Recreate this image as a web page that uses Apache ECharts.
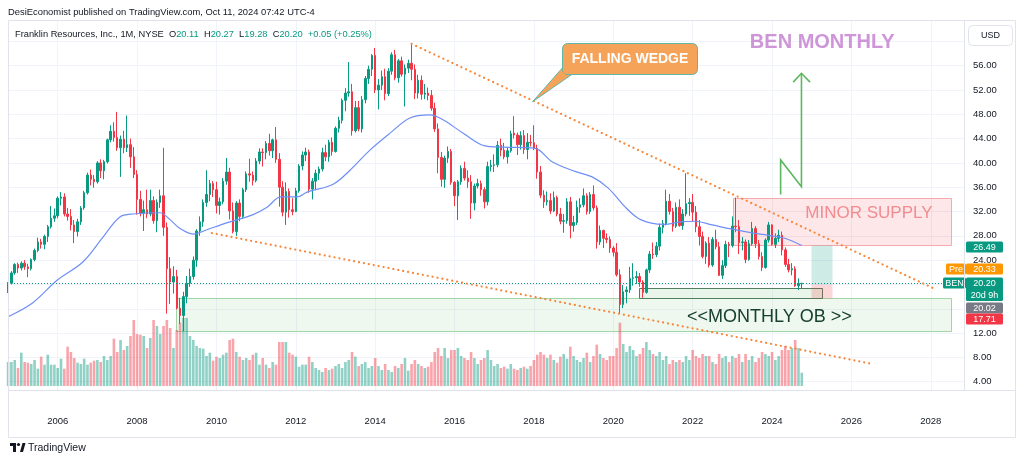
<!DOCTYPE html>
<html><head><meta charset="utf-8">
<script src="https://cdn.jsdelivr.net/npm/echarts@6/dist/echarts.min.js"></script>
<style>html,body{margin:0;padding:0;background:#fff}#c{width:1024px;height:463px}</style>
</head><body><div id="c"></div><script>
// ---------- DATA ----------
const startYear = 2004, startMonth = 10;           // first candle: Oct 2004 (monthly)
// [open, high, low, close]
const ohlc = [
// 2004 Oct-Dec
[18.9,20.4,18.6,20.2],[20.2,22.2,20.0,21.9],[21.9,23.5,21.6,23.3],
// 2005
[23.3,23.6,21.9,22.7],[22.7,23.8,22.3,23.5],[23.5,24.0,22.4,22.9],[22.9,23.4,21.2,22.6],[22.6,24.3,22.3,24.1],[24.1,25.9,23.8,25.6],
[25.6,27.7,25.3,27.0],[27.0,27.5,25.9,26.6],[26.6,28.2,25.8,27.9],[27.9,29.8,27.0,29.5],[29.5,32.9,29.2,30.9],[30.9,32.5,30.3,31.3],
// 2006
[31.3,34.5,30.9,34.2],[34.2,35.2,33.0,34.4],[34.4,35.0,31.2,31.6],[31.6,32.6,30.5,31.2],[31.2,32.4,28.9,29.8],[29.8,30.6,26.8,28.7],
[28.7,30.8,27.9,30.3],[30.3,32.9,29.8,32.6],[32.6,35.4,32.3,35.1],[35.1,38.4,34.8,38.0],[38.0,38.9,36.3,37.3],[37.3,38.0,35.9,36.9],
// 2007
[36.9,40.3,36.6,40.0],[40.0,40.6,37.5,38.7],[38.7,40.5,37.3,40.2],[40.2,44.0,39.9,43.8],[43.8,46.2,43.4,45.2],[45.2,46.7,43.5,44.2],
[44.2,48.4,42.0,42.5],[42.5,44.5,37.7,43.9],[43.9,45.3,41.6,42.5],[42.5,47.8,41.8,43.0],[43.0,44.0,39.2,41.0],[41.0,42.6,37.5,38.1],
// 2008
[38.1,38.8,31.5,34.0],[34.0,35.4,31.2,31.7],[31.7,33.8,28.8,32.3],[32.3,35.6,30.9,31.6],[31.6,35.6,31.2,33.8],[33.8,34.5,30.0,30.5],
[30.5,34.0,28.6,33.5],[33.5,35.6,32.6,34.6],[34.6,42.5,28.0,29.4],[29.4,30.2,15.2,22.6],[22.6,24.5,16.8,20.4],[20.4,23.0,18.5,21.3],
// 2009
[21.3,22.4,15.9,16.1],[16.1,17.8,13.5,14.9],[14.9,18.8,12.3,18.0],[18.0,21.4,16.9,20.2],[20.2,22.6,19.6,21.3],[21.3,24.6,20.8,24.0],
[24.0,29.1,22.9,28.8],[28.8,31.2,28.0,30.3],[30.3,34.0,29.5,33.5],[33.5,38.8,32.8,34.8],[34.8,37.2,33.7,36.6],[36.6,37.0,34.4,35.6],
// 2010
[35.6,36.9,31.7,33.0],[33.0,34.3,31.5,33.6],[33.6,37.5,33.2,37.0],[37.0,40.8,36.4,38.5],[38.5,39.2,30.7,32.1],[32.1,33.5,28.4,28.7],
[28.7,33.7,28.0,33.4],[33.4,34.0,30.4,31.2],[31.2,35.9,30.8,35.6],[35.6,38.6,35.2,38.2],[38.2,40.7,36.9,38.0],[38.0,38.6,36.3,37.1],
// 2011
[37.1,40.8,36.8,40.3],[40.3,42.4,39.8,41.8],[41.8,42.4,39.4,41.7],[41.7,43.6,40.6,43.2],[43.2,44.8,41.2,42.0],[42.0,44.0,40.8,43.8],
[43.8,45.9,40.0,40.6],[40.6,41.6,32.8,36.0],[36.0,37.0,31.2,31.9],[31.9,36.8,29.8,35.3],[35.3,35.8,31.0,32.3],[32.3,34.2,31.4,32.0],
// 2012
[32.0,35.9,31.9,35.4],[35.4,39.8,35.1,39.5],[39.5,41.9,38.8,41.3],[41.3,42.5,40.3,41.8],[41.8,42.2,35.1,35.7],[35.7,37.5,34.0,37.0],
[37.0,38.9,35.6,38.3],[38.3,39.4,37.2,39.0],[39.0,42.5,38.6,41.7],[41.7,43.0,40.3,41.0],[41.0,43.8,40.2,43.4],[43.4,44.2,41.2,41.9],
// 2013
[41.9,46.0,41.7,45.7],[45.7,47.6,45.0,47.0],[47.0,50.6,46.5,50.3],[50.3,52.3,48.5,51.5],[51.5,56.6,50.9,51.7],[51.7,53.0,44.5,45.3],
[45.3,50.2,45.0,49.1],[49.1,50.2,45.2,45.6],[45.6,51.0,45.0,50.4],[50.4,54.3,49.8,53.9],[53.9,56.0,53.0,55.4],[55.4,57.9,54.3,57.7],
// 2014
[57.7,58.9,51.5,52.0],[52.0,53.8,48.8,52.8],[52.8,55.2,52.0,54.2],[54.2,55.5,50.3,51.4],[51.4,55.6,51.0,55.1],[55.1,58.2,54.5,57.8],
[57.8,58.6,53.6,54.0],[54.0,57.1,53.2,56.8],[56.8,57.5,54.2,54.6],[54.6,56.2,49.3,55.6],[55.6,57.0,54.8,56.4],[56.4,59.6,53.6,55.4],
// 2015
[55.4,56.2,50.5,51.5],[51.5,54.5,50.6,53.6],[53.6,54.4,50.4,51.3],[51.3,53.0,50.5,51.5],[51.5,52.4,50.3,51.1],[51.1,52.0,48.6,49.0],
[49.0,49.9,45.1,45.6],[45.6,46.5,38.3,40.9],[40.9,41.8,36.1,37.3],[37.3,41.2,35.9,40.8],[40.8,42.7,40.0,41.9],[41.9,42.3,36.4,36.8],
// 2016
[36.8,37.0,32.9,34.6],[34.6,37.2,30.6,36.9],[36.9,39.6,36.4,39.1],[39.1,40.2,37.1,37.5],[37.5,38.8,35.9,36.9],[36.9,38.0,30.8,33.4],
[33.4,36.6,32.2,36.2],[36.2,37.4,35.8,36.6],[36.6,37.1,34.6,35.6],[35.6,36.0,32.5,33.6],[33.6,40.2,33.0,39.4],[39.4,40.5,38.6,39.6],
// 2017
[39.6,41.4,38.5,39.7],[39.7,43.6,39.3,42.9],[42.9,44.0,41.1,42.1],[42.1,43.3,40.6,41.0],[41.0,42.6,39.9,42.0],[42.0,45.3,41.7,44.8],
[44.9,47.7,44.0,44.6],[44.6,45.0,41.3,43.0],[43.0,45.2,42.2,44.5],[44.5,45.4,41.5,42.2],[42.2,44.9,40.6,43.4],[43.4,44.6,42.7,43.3],
// 2018
[43.3,46.2,42.1,42.4],[42.4,43.0,37.4,38.5],[38.5,39.5,34.2,34.7],[34.7,35.5,32.6,33.6],[33.6,35.3,33.0,33.8],[33.8,35.0,31.6,32.1],
[32.1,35.3,31.9,34.3],[34.3,34.6,31.2,31.6],[31.6,32.6,29.9,30.4],[30.4,31.6,28.5,30.5],[30.5,34.2,30.0,33.6],[33.6,34.4,27.6,29.7],
// 2019
[29.7,31.3,28.7,30.2],[30.2,33.8,29.8,32.7],[32.7,34.2,31.8,33.1],[33.1,35.8,32.7,34.6],[34.6,35.0,31.5,32.0],[32.0,35.2,31.6,34.8],
[34.8,36.3,32.2,32.6],[32.6,33.0,25.9,27.0],[27.0,29.7,26.5,28.9],[28.9,29.0,26.0,27.6],[27.6,28.4,26.8,27.4],[27.4,27.9,25.2,26.0],
// 2020
[26.0,26.3,24.6,25.3],[25.3,26.8,21.3,21.6],[21.6,22.5,15.3,16.7],[16.7,19.9,16.1,18.8],[18.8,19.7,16.9,19.1],[19.1,22.9,18.6,21.0],
[21.0,23.5,19.8,21.1],[21.1,22.2,20.1,21.3],[21.3,21.9,19.6,20.4],[20.4,20.7,17.8,18.7],[18.7,22.6,18.5,22.4],[22.4,25.5,21.9,25.0],
// 2021
[25.0,26.9,24.2,24.9],[24.9,27.0,24.5,26.3],[26.3,30.0,25.6,29.4],[29.4,30.6,28.4,30.0],[30.0,35.6,29.7,33.7],[33.7,34.9,31.5,32.0],
[32.0,32.6,28.7,29.6],[29.6,33.5,29.3,32.7],[32.7,34.0,29.5,29.7],[29.7,32.4,29.0,31.6],[31.6,38.3,31.2,33.3],[33.3,34.2,31.3,33.5],
// 2022
[33.5,34.9,30.3,31.9],[31.9,32.9,28.6,29.5],[29.5,30.6,26.4,27.9],[27.9,28.7,24.3,24.6],[24.6,27.1,23.4,26.8],[26.8,27.8,22.8,23.2],
[23.2,27.8,22.9,27.4],[27.4,29.0,25.8,26.2],[26.2,27.0,21.4,21.5],[21.5,24.0,20.9,23.1],[23.1,27.2,22.7,26.6],[26.6,27.0,24.5,26.4],
// 2023
[26.4,31.2,26.1,29.6],[29.6,34.3,28.6,29.5],[29.5,30.6,25.0,26.9],[26.9,27.8,25.6,27.0],[27.0,27.4,23.5,24.1],[24.1,27.3,23.9,26.7],
[26.7,30.3,26.4,29.2],[29.2,29.6,26.0,26.7],[26.7,27.3,24.1,24.6],[24.6,25.3,22.2,22.8],[22.8,27.6,22.6,27.3],[27.3,30.3,26.9,29.8],
// 2024 Jan-Oct
[29.8,29.9,26.4,26.6],[26.6,28.4,26.0,27.6],[27.6,29.0,27.0,28.1],[28.1,28.7,24.8,25.7],[25.7,26.1,22.9,23.3],[23.3,24.2,22.0,22.4],
[22.4,23.5,21.5,22.6],[22.6,23.0,19.6,19.8],[19.8,21.0,19.1,20.15],[20.11,20.27,19.28,20.20]
];
// monthly volume, millions of shares
const volume = [
36,36,39,
27,50,36,35,33,39,26,44,32,47,32,32,
27,41,26,59,51,42,35,33,41,32,35,38,
39,36,45,39,45,71,51,69,54,60,75,99,
78,77,75,57,72,99,90,78,90,99,87,57,
84,95,102,102,75,69,60,57,56,45,50,38,
44,42,47,50,69,71,51,44,39,42,39,47,
50,32,42,32,27,36,32,66,66,66,50,47,
44,29,32,32,44,36,27,24,21,27,24,26,
30,33,27,36,39,51,44,30,33,36,27,30,
42,30,24,33,24,21,30,27,33,42,23,33,
39,33,30,27,29,36,51,57,45,57,42,54,
54,57,45,42,39,51,42,33,39,42,54,39,
30,33,27,29,26,33,26,24,27,29,26,30,
39,47,51,47,42,47,39,35,44,48,41,59,
45,39,36,42,50,36,45,62,48,42,39,45,
45,57,95,63,51,60,54,45,48,57,66,54,
48,45,51,39,45,33,39,36,39,36,45,39,
54,45,42,48,45,45,36,33,48,42,45,36,
45,42,48,36,48,39,45,36,42,51,48,45,
51,39,45,54,60,54,57,69,57,20
];
// moving average: [month index, value]
const maPoints = [
[0,14.7],[7.5,17.0],[14.8,20.7],[22.6,23.7],[28.7,27.8],[33.8,31.1],[37.8,31.6],[45.9,31.8],[48.5,30.9],[52,29.2],
[55.9,28.3],[60.1,29.0],[64.3,29.8],[67.1,30.3],[74.1,31.5],[78.3,32.7],[82.5,34.4],[87.4,34.4],[90.4,35.2],[98.3,36.5],
[103.4,38.8],[109.4,42.1],[115.5,44.9],[121.5,47.4],[127.6,47.9],[131.5,47.1],[137.6,44.9],[144.2,42.8],[149.7,42.6],
[159.3,42.4],[164.5,40.2],[171.4,38.6],[176.6,37.7],[181.4,35.9],[186.5,32.8],[190.5,30.9],[194.5,30.1],[198.5,29.9],
[203.2,30.3],[207.7,30.4],[212.9,29.8],[219,29.1],[225,28.5],[231,28.0],[234.9,27.6],[240,26.4]
];
const yearTicks = [2006,2008,2010,2012,2014,2016,2018,2020,2022,2024,2026,2028];
const priceTicks = [4,8,12,16,20,24,28,32,36,40,44,48,52,56,60];
// drawings (month index, price)
const upperWedge = [[122,59.6],[279.7,19.4]];
const lowerWedge = [[61.6,28.47],[261.6,6.9]];
const minorSupply = [[219.1,34.3],[285.1,26.6]];
const monthlyOB = [[50.8,17.71],[285.1,12.23]];
const smallOB = [[190.9,19.47],[246.3,17.85]];
const posTarget = [[242.8,26.49],[249.1,20.02]];
const posStop = [[242.8,20.02],[249.1,17.71]];
const calloutBox = [[167.4,59.78],[208.2,54.75]];
const calloutTip = [158.6,50.07];
const arrowPath = [[233.6,34.8],[233.6,40.5],[239.9,36.1],[239.9,54.75]];
const arrowHead = [[237.4,53.3],[239.9,54.75],[242.5,53.3]];
const benTitlePos = [224.3,59.9];
const supplyTextPos = [260.3,31.7];
const obTextPos = [230.2,14.7];
const tags = [ // [side label, text, colour, top y px, height]
  ['', '26.49', '#089981', 241.5, 11],
  ['Pre', '20.33', '#ff9800', 263.5, 11],
  ['BEN', '20.20\n20d 9h', '#089981', 277.5, 23.5],
  ['', '20.02', '#787b86', 302.5, 11],
  ['', '17.71', '#f23645', 313.5, 11]
];

// ---------- LAYOUT ----------
const UP = '#089981', DOWN = '#f23645';
const FONT = 'Liberation Sans';
const PANE = {l: 8, r: 964, t: 21, b: 390};
const X0 = -0.03, X1 = 289.05;             // month-index range of the pane
const Y0 = 2.634, Y1 = 63.355;             // price range of the pane
const monthIndexOfYear = y => (y - startYear) * 12 + (1 - startMonth);
const xTickIdx = yearTicks.map(monthIndexOfYear);

const candleData = ohlc.map((r, i) => [i, r[0], r[3], r[2], r[1]]);
const volData = volume.map((v, i) => [i, v]);
const last = ohlc[ohlc.length - 1], prevClose = ohlc[ohlc.length - 2][3];

const chart = echarts.init(document.getElementById('c'), null, {renderer: 'canvas', width: 1024, height: 463});
chart.setOption({
  animation: false,
  backgroundColor: '#ffffff',
  textStyle: {fontFamily: FONT},
  grid: [
    {left: PANE.l, right: 1024 - PANE.r, top: PANE.t, bottom: 463 - PANE.b},
    {left: PANE.l, right: 1024 - PANE.r, top: 306, bottom: 463 - 386}
  ],
  xAxis: [
    {type: 'value', gridIndex: 0, min: X0, max: X1,
     axisLine: {show: false},
     axisTick: {show: false, customValues: xTickIdx},
     axisLabel: {customValues: xTickIdx, margin: 26, fontSize: 9.5, color: '#131722', fontFamily: FONT,
       formatter: v => String(startYear + Math.floor((v + startMonth - 1) / 12))},
     splitLine: {show: true, lineStyle: {color: '#f0f3fa', width: 1}}},
    {type: 'value', gridIndex: 1, min: X0, max: X1, show: false}
  ],
  yAxis: [
    {type: 'value', gridIndex: 0, position: 'right', min: Y0, max: Y1, scale: true,
     axisLine: {show: false},
     axisTick: {show: false, customValues: priceTicks},
     axisLabel: {customValues: priceTicks, margin: 9, fontSize: 9.5, color: '#131722', fontFamily: FONT,
       formatter: v => v.toFixed(2)},
     splitLine: {show: true, lineStyle: {color: '#f0f3fa', width: 1}}},
    {type: 'value', gridIndex: 1, min: 0, max: 120, show: false}
  ],
  series: [
    {type: 'bar', xAxisIndex: 1, yAxisIndex: 1, data: volData, barWidth: 2.6, z: 1,
     itemStyle: {color: p => ohlc[p.dataIndex][3] >= ohlc[p.dataIndex][0] ? 'rgba(8,153,129,0.45)' : 'rgba(242,54,69,0.45)'}},
    {type: 'candlestick', xAxisIndex: 0, yAxisIndex: 0, data: candleData, encode: {x: 0, y: [1, 2, 3, 4]},
     barWidth: 2, z: 3,
     itemStyle: {color: UP, color0: DOWN, borderColor: UP, borderColor0: DOWN, borderWidth: 1},
     markLine: {silent: true, symbol: 'none', animation: false,
       data: [{yAxis: last[3]}], label: {show: false},
       lineStyle: {color: UP, type: [1, 2], width: 1}}},
    {type: 'line', xAxisIndex: 0, yAxisIndex: 0, data: maPoints, smooth: 0.35, showSymbol: false, z: 4,
     lineStyle: {color: '#6f8ff6', width: 1.2}}
  ]
});

// ---------- DRAWINGS (anchored in data space) ----------
const P = pt => chart.convertToPixel({gridIndex: 0}, pt);
function rectOf(a, b) {
  const p = P(a), q = P(b);
  const x = Math.round(Math.min(p[0], q[0])) + 0.5, y = Math.round(Math.min(p[1], q[1])) + 0.5;
  return {x, y, width: Math.round(Math.abs(q[0] - p[0])), height: Math.round(Math.abs(q[1] - p[1]))};
}
const g = [];
// frame
g.push({type: 'rect', shape: {x: 8.5, y: 20.5, width: 1007, height: 417}, style: {fill: null, stroke: '#e0e3eb', lineWidth: 1}, z: 200});
g.push({type: 'line', shape: {x1: 8, y1: 390.5, x2: 1016, y2: 390.5}, style: {stroke: '#e0e3eb', lineWidth: 1}, z: 200});
g.push({type: 'line', shape: {x1: 964.5, y1: 21, x2: 964.5, y2: 390}, style: {stroke: '#e0e3eb', lineWidth: 1}, z: 200});
// zones
g.push({type: 'rect', shape: rectOf(monthlyOB[0], monthlyOB[1]), style: {fill: 'rgba(76,175,80,0.09)', stroke: '#a3d4a5', lineWidth: 1}, z: 0});
g.push({type: 'rect', shape: rectOf(minorSupply[0], minorSupply[1]), style: {fill: 'rgba(242,54,69,0.12)', stroke: '#f6a9ae', lineWidth: 1}, z: 0});
g.push({type: 'rect', shape: rectOf(smallOB[0], smallOB[1]), style: {fill: 'rgba(76,175,80,0.12)', stroke: '#4f7f5c', lineWidth: 1}, z: 0});
g.push({type: 'rect', shape: rectOf(posTarget[0], posTarget[1]), style: {fill: 'rgba(8,153,129,0.2)'}, z: 0});
g.push({type: 'rect', shape: rectOf(posStop[0], posStop[1]), style: {fill: 'rgba(242,54,69,0.2)'}, z: 0});
// wedge lines
[upperWedge, lowerWedge].forEach(w => {
  const a = P(w[0]), b = P(w[1]);
  g.push({type: 'line', shape: {x1: a[0], y1: a[1], x2: b[0], y2: b[1]},
    style: {stroke: '#f7873a', lineWidth: 2.2, lineDash: [0.1, 4.9], lineCap: 'round'}, z: 50});
});
// callout
const cb = rectOf(calloutBox[0], calloutBox[1]), tip = P(calloutTip);
g.push({type: 'polygon', shape: {points: [[cb.x + 2, cb.y + cb.height - 9], tip, [cb.x + 10, cb.y + cb.height - 0.5]]},
  style: {fill: '#f6a35a', stroke: '#5fb7a8', lineWidth: 1}, z: 100});
g.push({type: 'rect', shape: {x: cb.x, y: cb.y, width: cb.width, height: cb.height, r: 5},
  style: {fill: '#f6a35a', stroke: '#5fb7a8', lineWidth: 1}, z: 101});
g.push({type: 'rect', shape: {x: cb.x + 1, y: cb.y + cb.height - 10, width: 12, height: 9},
  style: {fill: '#f6a35a'}, z: 102});
g.push({type: 'text', x: cb.x + cb.width / 2, y: cb.y + cb.height / 2 + 0.5, z: 103,
  style: {text: 'FALLING WEDGE', fill: '#ffffff', fontSize: 14, fontWeight: 'bold', fontFamily: FONT, align: 'center', verticalAlign: 'middle'}});
// title on chart
const bt = P(benTitlePos);
g.push({type: 'text', x: bt[0], y: bt[1], z: 100,
  style: {text: 'BEN MONTHLY', fill: '#ce95d9', fontSize: 20, fontWeight: 'bold', fontFamily: FONT, align: 'left', verticalAlign: 'middle'}});
// arrow
g.push({type: 'polyline', shape: {points: arrowPath.map(P)}, style: {stroke: '#5cb85f', lineWidth: 1.6, fill: null}, z: 100});
g.push({type: 'polyline', shape: {points: arrowHead.map(P)}, style: {stroke: '#5cb85f', lineWidth: 1.6, fill: null}, z: 100});
// zone labels
const st = P(supplyTextPos);
g.push({type: 'text', x: st[0], y: st[1], z: 100,
  style: {text: 'MINOR SUPPLY', fill: '#f28c90', fontSize: 17, fontFamily: FONT, align: 'center', verticalAlign: 'middle'}});
const ot = P(obTextPos);
g.push({type: 'text', x: ot[0], y: ot[1], z: 100,
  style: {text: '<<MONTHLY OB >>', fill: '#17402f', fontSize: 18, fontFamily: FONT, align: 'center', verticalAlign: 'middle'}});
// header + legend
g.push({type: 'text', x: 8, y: 12, z: 100,
  style: {text: 'DesiEconomist published on TradingView.com, Oct 11, 2024 07:42 UTC-4', fill: '#131722', fontSize: 9.4, fontFamily: FONT, verticalAlign: 'middle'}});
const chg = last[3] - prevClose;
g.push({type: 'text', x: 15, y: 34, z: 100,
  style: {
    text: '{a|Franklin Resources, Inc., 1M, NYSE}  {a|O}{g|' + last[0].toFixed(2) + '}  {a|H}{g|' + last[1].toFixed(2) +
          '}  {a|L}{g|' + last[2].toFixed(2) + '}  {a|C}{g|' + last[3].toFixed(2) + '}  {g|+' + chg.toFixed(2) +
          ' (+' + (chg / prevClose * 100).toFixed(2) + '%)}',
    fontSize: 9.3, fontFamily: FONT, verticalAlign: 'middle',
    rich: {a: {fill: '#131722', fontSize: 9.3, fontFamily: FONT}, g: {fill: '#089981', fontSize: 9.3, fontFamily: FONT}}
  }});
// USD button
g.push({type: 'rect', shape: {x: 968.5, y: 25.5, width: 44, height: 20, r: 4}, style: {fill: '#ffffff', stroke: '#e0e3eb', lineWidth: 1}, z: 150});
g.push({type: 'text', x: 990.5, y: 35.5, z: 151, style: {text: 'USD', fill: '#131722', fontSize: 9, fontFamily: FONT, align: 'center', verticalAlign: 'middle'}});
// price tags
tags.forEach(t => {
  g.push({type: 'rect', shape: {x: 966, y: t[3], width: 37, height: t[4], r: 1.5}, style: {fill: t[2]}, z: 150});
  g.push({type: 'text', x: 984.5, y: t[3] + t[4] / 2 + 0.5, z: 151,
    style: {text: t[1], fill: '#ffffff', fontSize: 9, fontFamily: FONT, align: 'center', verticalAlign: 'middle', lineHeight: 11.5}});
  if (t[0]) {
    const w = t[0] === 'Pre' ? 20 : 23;
    g.push({type: 'rect', shape: {x: 966 - w, y: t[3], width: w, height: 11, r: 1.5}, style: {fill: t[2]}, z: 150});
    g.push({type: 'text', x: 966 - w / 2, y: t[3] + 6, z: 151,
      style: {text: t[0], fill: '#ffffff', fontSize: 9, fontFamily: FONT, align: 'center', verticalAlign: 'middle'}});
  }
});
// TradingView footer logo
g.push({type: 'rect', shape: {x: 10, y: 443, width: 6, height: 3}, style: {fill: '#131722'}, z: 100});
g.push({type: 'rect', shape: {x: 13, y: 443, width: 3, height: 9}, style: {fill: '#131722'}, z: 100});
g.push({type: 'circle', shape: {cx: 18.5, cy: 444.5, r: 1.6}, style: {fill: '#131722'}, z: 100});
g.push({type: 'polygon', shape: {points: [[20, 452], [22.5, 443], [25.5, 443], [23, 452]]}, style: {fill: '#131722'}, z: 100});
g.push({type: 'text', x: 28, y: 448, z: 100, style: {text: 'TradingView', fill: '#131722', fontSize: 10.5, fontFamily: FONT, verticalAlign: 'middle'}});
chart.setOption({graphic: {elements: g}});
</script></body></html>
